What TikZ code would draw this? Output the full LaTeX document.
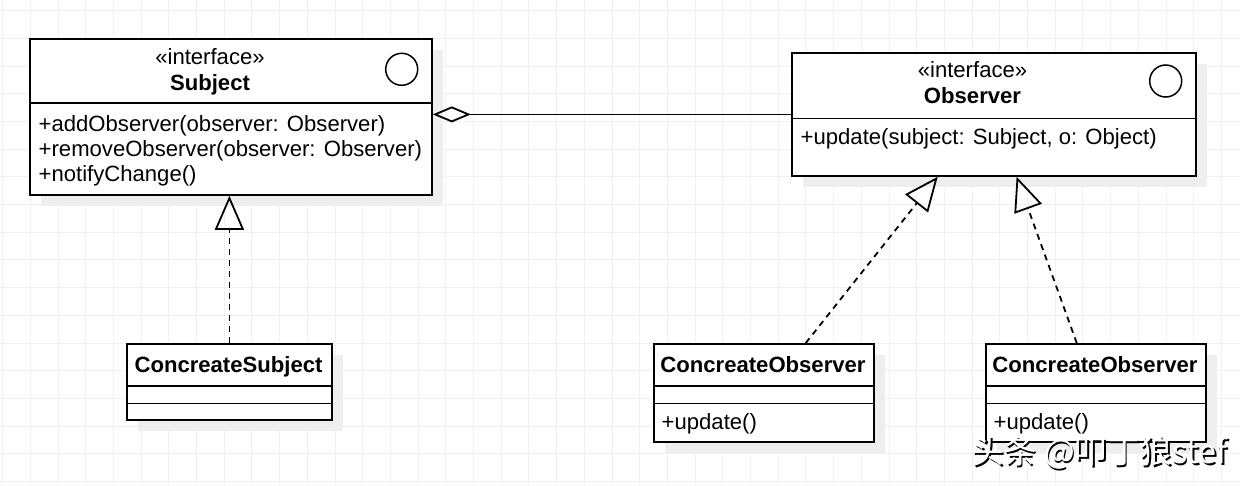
\documentclass[tikz,border=0pt]{standalone}
\usepackage{fontspec}
\setmainfont{Liberation Sans}
\newfontfamily\cjkfont{Noto Sans CJK SC}
\usetikzlibrary{arrows.meta}

\definecolor{shadowgray}{HTML}{EEEEEE}
\definecolor{gridgray}{HTML}{F1F1F1}

\tikzset{
  umlbox/.style={draw, line width=1.8, fill=white, inner sep=0pt, anchor=north west},
  txt/.style={font=\fontsize{22.1}{25}\selectfont, inner sep=0pt},
  realize/.style={line width=1.8, dash pattern=on 6pt off 5pt,
    -{Triangle[open, length=34pt, width=29pt]}},
  aggregate/.style={line width=1.8, {Diamond[open, length=38pt, width=16pt]}-},
}

\begin{document}
\begin{tikzpicture}[x=1pt, y=-1pt]
  \useasboundingbox[fill=white] (0,0) rectangle (1240,485);

  \foreach \i in {0,...,44}
    \draw[gridgray, line width=0.9] ({2.6+27.7*\i},0) -- ({2.6+27.7*\i},485);
  \foreach \j in {0,...,17}
    \draw[gridgray, line width=0.9] (0,{10.6+27.7*\j}) -- (1240,{10.6+27.7*\j});

  \fill[shadowgray] (41,50) rectangle (443,206);
  \fill[shadowgray] (803,64) rectangle (1207,187);
  \fill[shadowgray] (138,355) rectangle (343,431);
  \fill[shadowgray] (665,355) rectangle (885,453);
  \fill[shadowgray] (997,355) rectangle (1217,453);

  \node[umlbox, minimum width=402, minimum height=156] (subject) at (29,38) {};
  \node[umlbox, minimum width=404, minimum height=123] (observer) at (791,52) {};
  \node[umlbox, minimum width=205, minimum height=76] (csubject) at (126,343) {};
  \node[umlbox, minimum width=220, minimum height=98] (cobserverA) at (653,343) {};
  \node[umlbox, minimum width=220, minimum height=98] (cobserverB) at (985,343) {};

  \draw[line width=1.8] (29,103) -- (431,103);
  \draw[line width=1.8] (791,118.5) -- (1195,118.5);
  \draw[line width=1.8] (126,386) -- (331,386);
  \draw[line width=1.8] (126,403.5) -- (331,403.5);
  \draw[line width=1.8] (653,386) -- (873,386);
  \draw[line width=1.8] (653,403.5) -- (873,403.5);
  \draw[line width=1.8] (985,386) -- (1205,386);
  \draw[line width=1.8] (985,403.5) -- (1205,403.5);

  \draw[line width=1.5] (401.7,69.3) circle (16);
  \draw[line width=1.5] (1165.7,81) circle (16);

  \node[txt, anchor=base] at (210,64) {«interface»};
  \node[txt, anchor=base] at (210,90) {\bfseries Subject};
  \node[txt, anchor=base west] at (38.5,131) {+addObserver(observer: Observer)};
  \node[txt, anchor=base west] at (38.5,156) {+removeObserver(observer: Observer)};
  \node[txt, anchor=base west] at (38.5,181) {+notifyChange()};

  \node[txt, anchor=base] at (972.5,77) {«interface»};
  \node[txt, anchor=base] at (972.5,103) {\bfseries Observer};
  \node[txt, anchor=base west] at (800.5,144.5) {+update(subject: Subject, o: Object)};

  \node[txt, anchor=base] at (228.5,372) {\bfseries ConcreateSubject};
  \node[txt, anchor=base] at (763,372) {\bfseries ConcreateObserver};
  \node[txt, anchor=base west] at (661.5,429) {+update()};
  \node[txt, anchor=base] at (1095,372) {\bfseries ConcreateObserver};
  \node[txt, anchor=base west] at (993.5,429) {+update()};

  \draw[aggregate] (subject.east |- observer.west) -- (observer.west);
  \draw[realize] (csubject.north) -- (csubject.north |- subject.south);
  \draw[realize] (cobserverA.50) -- (observer.228.6);
  \draw[realize] (cobserverB.111.7) -- (observer.290.5);

  \node[font=\cjkfont\fontsize{32.5}{32.5}\selectfont, text=black, anchor=west, inner sep=0pt]
    (markshade) at (973.2,454.5) {头条 @叩丁狼stef};
  \node[font=\cjkfont\fontsize{32.5}{32.5}\selectfont, text=white, anchor=west, inner sep=0pt]
    (mark) at (971.7,453) {头条 @叩丁狼stef};
\end{tikzpicture}
\end{document}
